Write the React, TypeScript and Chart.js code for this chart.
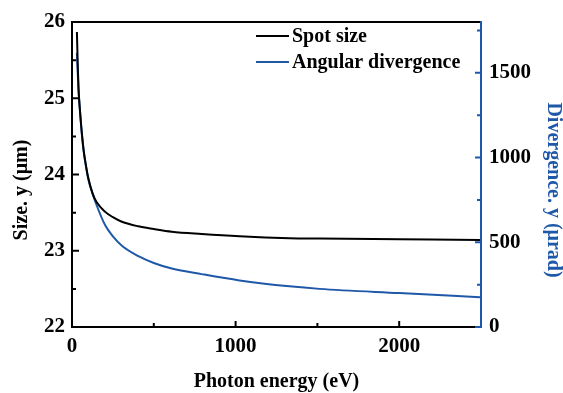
import { useEffect, useRef } from 'react';
import { Chart, registerables } from 'chart.js';

Chart.register(...registerables);

// Photon energy (eV)
const energies = [30, 35, 40, 50, 60, 71, 85, 100, 126, 150, 203, 250, 305, 406, 500, 610, 793, 1024, 1329, 1512, 2000, 2494];
// Spot size, y (µm) – left axis
const spotSize = [25.87, 25.45, 25.12, 24.8, 24.55, 24.32, 24.12, 23.95, 23.75, 23.64, 23.51, 23.44, 23.38, 23.32, 23.285, 23.25, 23.22, 23.19, 23.165, 23.16, 23.15, 23.14];
// Angular divergence, y (µrad) – right axis
const divergence = [1618, 1500, 1400, 1260, 1140, 1041, 950, 870, 787, 720, 600, 535, 480, 418, 378, 345, 312, 275, 240, 225, 200, 176];

const xTicks = [0, 1000, 2000];
const xMinor = [500, 1500];
const leftTicks = [22, 23, 24, 25, 26];
const leftMinor = [22.5, 23.5, 24.5, 25.5];
const rightTicks = [0, 500, 1000, 1500];
const rightMinor = [250, 750, 1250, 1750];

const seriesNames = ['Spot size', 'Angular divergence'];
const xTitle = 'Photon energy (eV)';
const leftTitle = 'Size. y (μm)';
const rightTitle = 'Divergence. y (μrad)';

const BLUE = '#1f58a8';
const FONT_FAMILY = '"Liberation Serif", "Times New Roman", serif';
const tickFont = { family: FONT_FAMILY, size: 21, weight: 'bold' as const };
const plain = (v: any) => String(v);

const overlay = {
  id: 'overlay',
  afterDraw(chart: any) {
    const { ctx, chartArea: a, scales } = chart;
    const sx = scales.x, sy = scales.y, sy2 = scales.y2;
    ctx.save();
    ctx.lineWidth = 2;
    ctx.lineCap = 'butt';
    ctx.strokeStyle = '#000';
    ctx.beginPath();
    ctx.moveTo(a.left - 1, a.top); ctx.lineTo(a.right, a.top);
    ctx.moveTo(a.left, a.top); ctx.lineTo(a.left, a.bottom);
    ctx.moveTo(a.left - 1, a.bottom); ctx.lineTo(a.right, a.bottom);
    leftTicks.forEach(v => { const p = sy.getPixelForValue(v); ctx.moveTo(a.left, p); ctx.lineTo(a.left + 7, p); });
    leftMinor.forEach(v => { const p = sy.getPixelForValue(v); ctx.moveTo(a.left, p); ctx.lineTo(a.left + 4, p); });
    xTicks.forEach(v => { const p = sx.getPixelForValue(v); ctx.moveTo(p, a.bottom); ctx.lineTo(p, a.bottom - 6); });
    xMinor.forEach(v => { const p = sx.getPixelForValue(v); ctx.moveTo(p, a.bottom); ctx.lineTo(p, a.bottom - 4); });
    ctx.stroke();
    ctx.strokeStyle = BLUE;
    ctx.beginPath();
    ctx.moveTo(a.right, a.top - 1); ctx.lineTo(a.right, a.bottom + 1);
    rightTicks.forEach(v => { const p = sy2.getPixelForValue(v); ctx.moveTo(a.right, p); ctx.lineTo(a.right - 6, p); });
    rightMinor.forEach(v => { const p = sy2.getPixelForValue(v); ctx.moveTo(a.right, p); ctx.lineTo(a.right - 4, p); });
    ctx.stroke();

    const lx = a.left + 184;
    const rows = [{ y: a.top + 14, c: '#000' }, { y: a.top + 40, c: BLUE }];
    ctx.font = `bold 20px ${FONT_FAMILY}`;
    ctx.textBaseline = 'middle';
    ctx.textAlign = 'left';
    rows.forEach((r, i) => {
      ctx.strokeStyle = r.c;
      ctx.beginPath();
      ctx.moveTo(lx, r.y); ctx.lineTo(lx + 33, r.y);
      ctx.stroke();
      ctx.fillStyle = '#000';
      ctx.fillText(seriesNames[i], lx + 36, r.y + 1);
    });

    ctx.textAlign = 'center';
    ctx.fillStyle = '#000';
    ctx.fillText(xTitle, (a.left + a.right) / 2, 382);
    ctx.save();
    ctx.translate(22, 190);
    ctx.rotate(-Math.PI / 2);
    ctx.fillText(leftTitle, 0, 0);
    ctx.restore();
    ctx.save();
    ctx.translate(553, 190);
    ctx.rotate(Math.PI / 2);
    ctx.fillStyle = BLUE;
    ctx.fillText(rightTitle, 0, 0);
    ctx.restore();
    ctx.restore();
  },
};

export default function App() {
  const ref = useRef<HTMLCanvasElement>(null);
  useEffect(() => {
    if (!ref.current) return;
    const chart = new Chart(ref.current, {
      type: 'line',
      data: {
        datasets: [
          {
            label: seriesNames[0],
            data: energies.map((e, i) => ({ x: e, y: spotSize[i] })),
            borderColor: '#000',
            borderWidth: 2,
            pointRadius: 0,
            cubicInterpolationMode: 'monotone',
            yAxisID: 'y',
          },
          {
            label: seriesNames[1],
            data: energies.map((e, i) => ({ x: e, y: divergence[i] })),
            borderColor: BLUE,
            borderWidth: 2,
            pointRadius: 0,
            cubicInterpolationMode: 'monotone',
            yAxisID: 'y2',
          },
        ],
      },
      options: {
        responsive: false,
        animation: false,
        devicePixelRatio: 1,
        layout: { padding: { top: 22, left: 0, right: 0, bottom: 0 } },
        plugins: { legend: { display: false }, tooltip: { enabled: false } },
        scales: {
          x: {
            type: 'linear',
            position: 'bottom',
            min: 0,
            max: 2500,
            grid: { display: false, drawTicks: false },
            border: { display: false },
            ticks: { font: tickFont, color: '#000', padding: 7, maxRotation: 0, callback: plain },
            afterBuildTicks: (s: any) => { s.ticks = xTicks.map(v => ({ value: v })); },
            afterFit: (s: any) => { s.height = 66; },
          },
          y: {
            type: 'linear',
            position: 'left',
            min: 22,
            max: 26,
            grid: { display: false, drawTicks: false },
            border: { display: false },
            ticks: { font: tickFont, color: '#000', padding: 7, callback: plain },
            afterBuildTicks: (s: any) => { s.ticks = leftTicks.map(v => ({ value: v })); },
            afterFit: (s: any) => { s.width = 72; },
          },
          y2: {
            type: 'linear',
            position: 'right',
            min: 0,
            max: 1800,
            grid: { display: false, drawTicks: false },
            border: { display: false },
            ticks: { font: tickFont, color: '#000', padding: 8, callback: plain },
            afterBuildTicks: (s: any) => { s.ticks = rightTicks.map(v => ({ value: v })); },
            afterFit: (s: any) => { s.width = 82; },
          },
        },
      },
      plugins: [overlay],
    } as any);
    return () => chart.destroy();
  }, []);
  return (
    <div style={{ position: 'absolute', left: 0, top: 0, width: 563, height: 393, background: '#fff' }}>
      <canvas ref={ref} width={563} height={393} />
    </div>
  );
}
